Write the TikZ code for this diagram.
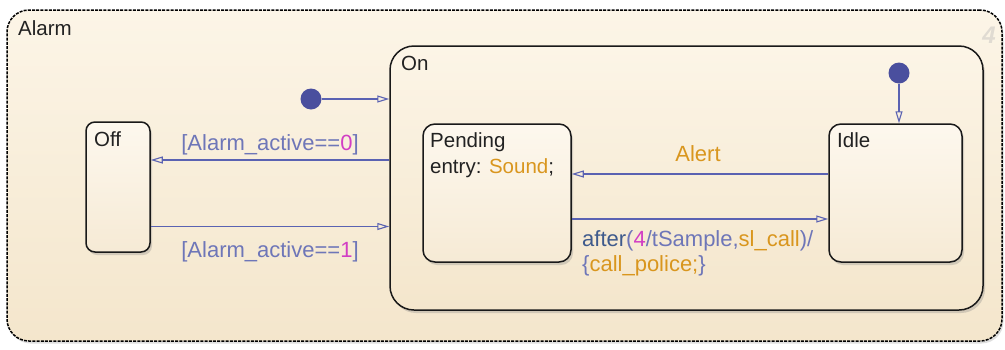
\documentclass[tikz,border=0pt]{standalone}
\usepackage{fontspec}
\setmainfont{Liberation Sans}
\usetikzlibrary{arrows.meta,shadows}
\definecolor{trblue}{HTML}{5A62B2}
\definecolor{lblblue}{HTML}{6E76B8}
\definecolor{kwblue}{HTML}{3E5A8C}
\definecolor{mag}{HTML}{D23EC4}
\definecolor{orng}{HTML}{D9961E}
\definecolor{dotblue}{HTML}{4A4F9E}
\definecolor{chtop}{HTML}{FCF5E7}
\definecolor{chbot}{HTML}{F4E6CC}
\definecolor{sttop}{HTML}{FDF8EE}
\definecolor{stbot}{HTML}{F6EAD5}
\definecolor{txt}{HTML}{222222}
\definecolor{numgray}{HTML}{E0DBD2}
\tikzset{
  chartbox/.style={draw=black, line width=1.5pt, dash pattern=on 3pt off 1.2pt,
    rounded corners=22pt, top color=chtop, bottom color=chbot, inner sep=0pt,
    drop shadow={shadow xshift=1.5pt, shadow yshift=-2.5pt, opacity=0.25}},
  superbox/.style={draw=black!90, line width=1.5pt, rounded corners=24pt,
    top color=chtop, bottom color=chbot, inner sep=0pt,
    drop shadow={shadow xshift=2pt, shadow yshift=-3pt, opacity=0.3}},
  statebox/.style={draw=black!90, line width=1.5pt, rounded corners=12pt,
    top color=sttop, bottom color=stbot, inner sep=0pt,
    drop shadow={shadow xshift=2pt, shadow yshift=-3pt, opacity=0.3}},
  stname/.style={anchor=base west, inner sep=0pt, font=\fontsize{20.5}{24}\selectfont, text=txt},
  trlbl/.style={inner sep=0pt, font=\fontsize{22}{26}\selectfont, text=lblblue},
  trans/.style={draw=trblue, line width=1.2pt, -{Triangle[open, length=12pt, width=7pt, line width=1.1pt]}},
  initdot/.style={circle, fill=dotblue, minimum size=21pt, inner sep=0pt}
}
\begin{document}
\begin{tikzpicture}[x=1pt,y=-1pt]
\useasboundingbox (0,0) rectangle (1005,349);
% chart
\node[chartbox, minimum width=995pt, minimum height=331pt] (alarm) at (504.5,175.5) {};
\node[stname] (alarmlbl) at (18,35) {Alarm};
\node[anchor=base east, inner sep=0pt, font=\fontsize{24}{28}\selectfont\bfseries\itshape, text=numgray] (chartnum) at (996,43) {4};
% superstate On
\node[superbox, minimum width=593pt, minimum height=264pt] (on) at (686.5,178) {};
\node[stname] (onlbl) at (401,70) {On};
% Off
\node[statebox, rounded corners=9pt, minimum width=64pt, minimum height=130pt] (off) at (118,187) {};
\node[stname] (offlbl) at (94,146) {Off};
% Pending
\node[statebox, minimum width=148pt, minimum height=138pt] (pending) at (497,193) {};
\node[stname] (pendlbl) at (430,147) {Pending};
\node[stname] (pendentry) at (430,173) {entry: \textcolor{orng}{Sound};};
% Idle
\node[statebox, minimum width=133pt, minimum height=138pt] (idle) at (895.5,193) {};
\node[stname] (idlelbl) at (837,147) {Idle};
% default transitions
\node[initdot] (d1) at (311,99) {};
\draw[trans] (d1) -- (on.west |- d1);
\node[initdot] (d2) at (899,73) {};
\draw[trans] (d2) -- (idle.north -| d2);
% transitions between Off and On
\draw[trans] (on.west |- 0,160) -- (off.east |- 0,160);
\node[trlbl, anchor=base] (t0) at (270,150) {[Alarm\_active==\textcolor{mag}{0}]};
\draw[trans] (off.east |- 0,226.5) -- (on.west |- 0,226.5);
\node[trlbl, anchor=base] (t1) at (270,257) {[Alarm\_active==\textcolor{mag}{1}]};
% transitions between Idle and Pending
\draw[trans] (idle.west |- 0,174) -- (pending.east |- 0,174);
\node[trlbl, anchor=base, text=orng] (talert) at (698,161.5) {Alert};
\draw[trans] (pending.east |- 0,219) -- (idle.west |- 0,219);
\node[trlbl, anchor=base west] (tafter) at (582,246) {\textcolor{kwblue}{after}(\textcolor{mag}{4}/tSample,\textcolor{orng}{sl\_call})/};
\node[trlbl, anchor=base west] (tcall) at (582,271) {\{\textcolor{orng}{call\_police;}\}};
\end{tikzpicture}
\end{document}
